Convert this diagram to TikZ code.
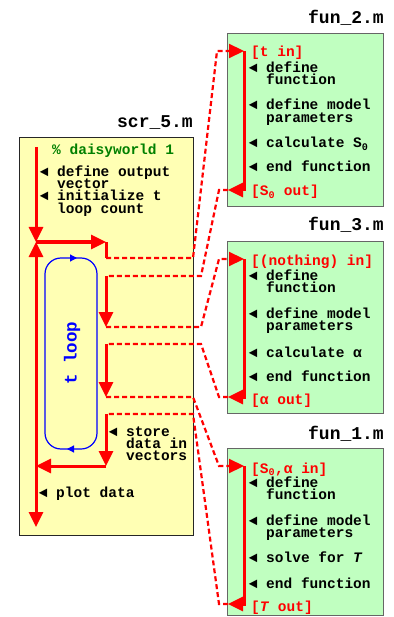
\documentclass[tikz,border=0pt]{standalone}
\usepackage{fontspec}
\setmonofont{Liberation Mono}
\usetikzlibrary{arrows.meta}
\definecolor{scrfill}{RGB}{255,255,180}
\definecolor{funfill}{RGB}{192,255,192}
\definecolor{cmtgreen}{RGB}{0,128,0}

\begin{document}
\begin{tikzpicture}[
  x=1pt, y=-1pt,
  font=\ttfamily\bfseries\fontsize{14.5}{12.2}\selectfont,
  mfile/.style={draw=black!60, line width=1.2pt, anchor=north west, inner sep=0pt},
  ftitle/.style={anchor=base east, inner sep=0pt, font=\ttfamily\bfseries\fontsize{18}{20}\selectfont},
  txt/.style={anchor=base west, inner sep=0pt, text height=8.5pt, text depth=2pt},
  io/.style={txt, text=red},
  flow/.style={red, line width=3pt},
  link/.style={red, line width=2.2pt, dash pattern=on 5pt off 3pt},
  bigtip/.style={-{Triangle[length=15pt,width=14pt]}},
  loopline/.style={blue, line width=1.2pt, rounded corners=16pt, -{Triangle[length=7pt,width=7pt]}}
]
\useasboundingbox (0,0) rectangle (393,617);

% files
\node[mfile, fill=scrfill, draw=black!85, line width=1pt, minimum width=174pt, minimum height=398pt] (scr) at (19,137) {};
\node[mfile, fill=funfill, minimum width=156pt, minimum height=173pt] (f2) at (227,33) {};
\node[mfile, fill=funfill, minimum width=156pt, minimum height=172pt] (f3) at (227,241) {};
\node[mfile, fill=funfill, minimum width=156pt, minimum height=167pt] (f1) at (227,448) {};
\node[ftitle] (scrname) at (193,128) {scr\_5.m};
\node[ftitle] (f2name) at (384,24) {fun\_2.m};
\node[ftitle] (f3name) at (384,231) {fun\_3.m};
\node[ftitle] (f1name) at (384,439.5) {fun\_1.m};

% scr_5.m
\node[txt, text=cmtgreen] (cmt) at (52,155) {\% daisyworld 1};
\node[txt] (outvec) at (39.6,176.5) {◄ define output};
\node[txt] (outvecb) at (57,188.7) {vector};
\node[txt] (tinit) at (39.6,201) {◄ initialize t};
\node[txt] (tinitb) at (57,213.2) {loop count};
\node[txt] (store) at (108.6,436) {◄ store};
\node[txt] (storeb) at (126,448.2) {data in};
\node[txt] (storec) at (126,460.4) {vectors};
\node[txt] (plot) at (38.6,497) {◄ plot data};
\node[blue, rotate=90, inner sep=0pt, font=\ttfamily\bfseries\fontsize{17.5}{18}\selectfont] (tloop) at (72,353) {t loop};

% fun_2.m
\node[io] (in2) at (251,56.5) {[t in]};
\node[txt] (fn2) at (248.6,72.5) {◄ define};
\node[txt] (fn2b) at (266,84.7) {function};
\node[txt] (par2) at (248.6,110) {◄ define model};
\node[txt] (par2b) at (266,122.2) {parameters};
\node[txt] (calc2) at (248.6,148) {◄ calculate S\textsubscript{0}};
\node[txt] (end2) at (248.6,172) {◄ end function};
\node[io] (out2) at (251,196) {[S\textsubscript{0} out]};

% fun_3.m
\node[io] (in3) at (251,265) {[(nothing) in]};
\node[txt] (fn3) at (248.6,280.5) {◄ define};
\node[txt] (fn3b) at (266,292.7) {function};
\node[txt] (par3) at (248.6,318) {◄ define model};
\node[txt] (par3b) at (266,330.2) {parameters};
\node[txt] (calc3) at (248.6,357.5) {◄ calculate α};
\node[txt] (end3) at (248.6,381.5) {◄ end function};
\node[io] (out3) at (251,404) {[α out]};

% fun_1.m
\node[io] (in1) at (251,473) {[S\textsubscript{0},α in]};
\node[txt] (fn1) at (248.6,487.5) {◄ define};
\node[txt] (fn1b) at (266,499.7) {function};
\node[txt] (par1) at (248.6,525.5) {◄ define model};
\node[txt] (par1b) at (266,537.7) {parameters};
\node[txt] (solve1) at (248.6,562) {◄ solve for \textit{T}};
\node[txt] (end1) at (248.6,588) {◄ end function};
\node[io] (out1) at (251,611) {[\textit{T} out]};

% flow points
\coordinate (top) at (36,147);
\coordinate (loopin) at (36,242);
\coordinate (back) at (36,466);
\coordinate (bottom) at (36,527);
\coordinate (go2) at (106,242);
\coordinate (call2) at (106,258);
\coordinate (get2) at (106,276);
\coordinate (call3) at (106,327);
\coordinate (get3) at (106,344);
\coordinate (call1) at (106,397);
\coordinate (get1) at (106,414);
\coordinate (done) at (106,466);
\coordinate (enter2) at (244,51);
\coordinate (leave2) at (244,190);
\coordinate (exit2) at (228,190);
\coordinate (enter3) at (244,259);
\coordinate (leave3) at (244,397);
\coordinate (exit3) at (228,397);
\coordinate (enter1) at (244,466);
\coordinate (leave1) at (244,604);
\coordinate (exit1) at (228,604);

% loop
\draw[loopline] (72,449) -- (45,449) -- (45,258) -- (77,258);
\draw[loopline] (70,258) -- (97,258) -- (97,449) -- (67,449);

% main line
\draw[flow, bigtip] (top) -- (loopin);
\draw[flow, bigtip] (back) -- (loopin);
\draw[flow, bigtip] (back) -- (bottom);
\draw[flow, bigtip] (loopin) -- (go2);
\draw[flow] (go2) -- (call2);
\draw[flow, bigtip] (get2) -- (call3);
\draw[flow, bigtip] (get3) -- (call1);
\draw[flow, bigtip] (get1) -- (done);
\draw[flow, bigtip] (done) -- (back);

% inside the functions
\draw[flow, bigtip] (enter2) -- (leave2) -- (exit2);
\draw[flow, bigtip] (enter3) -- (leave3) -- (exit3);
\draw[flow, bigtip] (enter1) -- (leave1) -- (exit1);

% calls and returns
\draw[link, bigtip] (call2) -- (193,258) -- (217,51) -- (enter2);
\draw[link] (exit2) -- (219,190) -- (201,276) -- (get2);
\draw[link, bigtip] (call3) -- (201,327) -- (219,259) -- (enter3);
\draw[link] (exit3) -- (219,397) -- (201,344) -- (get3);
\draw[link, bigtip] (call1) -- (193,397) -- (219,466) -- (enter1);
\draw[link] (exit1) -- (219,604) -- (193,414) -- (get1);
\end{tikzpicture}
\end{document}
